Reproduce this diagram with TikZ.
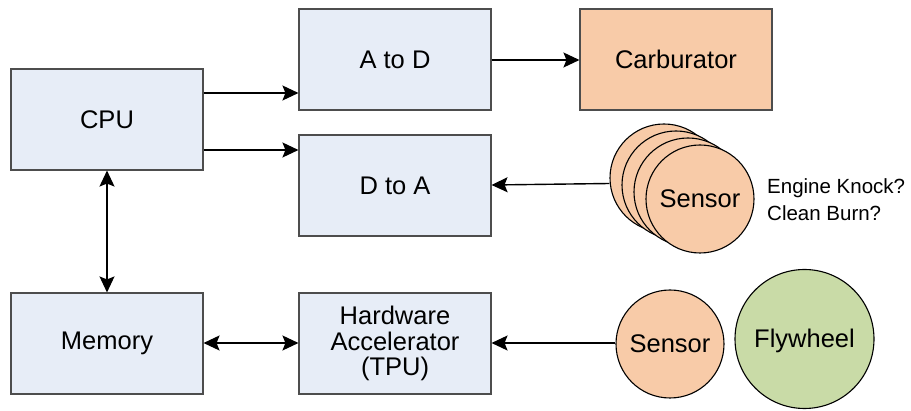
\documentclass[tikz,border=0pt]{standalone}
\usepackage{fontspec}
\setmainfont{Liberation Sans}
\usetikzlibrary{arrows.meta}
\definecolor{boxblue}{HTML}{E7EDF7}
\definecolor{boxline}{HTML}{4D4D4D}
\definecolor{orangefill}{HTML}{F8CBA8}
\definecolor{greenfill}{HTML}{C9DBA7}
\tikzset{
  blk/.style={draw=boxline, line width=1.1pt, fill=boxblue, minimum width=192pt, minimum height=101pt, inner sep=0pt, align=center, font=\fontsize{25.5}{25.5}\selectfont},
  orangeblk/.style={blk, fill=orangefill},
  circ/.style={circle, draw=black, line width=1.1pt, fill=orangefill, inner sep=0pt, font=\fontsize{25.5}{25.5}\selectfont},
  arr/.style={line width=1.4pt, -{Stealth[length=16pt,width=15pt,inset=3pt]}},
  darr/.style={line width=1.4pt, {Stealth[length=16pt,width=15pt,inset=3pt]}-{Stealth[length=16pt,width=15pt,inset=3pt]}},
  note/.style={anchor=west, inner sep=0pt, align=left, font=\fontsize{20.5}{27}\selectfont}
}
\begin{document}
\begin{tikzpicture}[x=1pt,y=-1pt]
\useasboundingbox[fill=white] (0,0) rectangle (911,411);
\node[blk] (cpu) at (107,119.5) {CPU};
\node[blk] (atod) at (395,59.5) {A to D};
\node[blk] (dtoa) at (395,185.5) {D to A};
\node[blk] (mem) at (107,343.5) {Memory};
\node[blk] (hw) at (395,343.5) {Hardware\\Accelerator\\(TPU)};
\node[orangeblk] (carb) at (676,59.5) {Carburator};
% stacked sensors
\node[circ, minimum size=108pt] (s4) at (664,178) {};
\node[circ, minimum size=108pt] (s3) at (676,185) {};
\node[circ, minimum size=108pt] (s2) at (688,192) {};
\node[circ, minimum size=108pt] (s1) at (700,199) {Sensor};
\node[note] (notes) at (767,199.5) {Engine Knock?\\Clean Burn?};
% bottom sensors
\node[circ, minimum size=108pt] (sens) at (670,344) {Sensor};
\node[circ, minimum size=139pt, fill=greenfill, text depth=2pt] (fly) at (804.5,339) {Flywheel};
% connectors
\draw[arr] (cpu.east |- 0,93) -- (atod.west |- 0,93);
\draw[arr] (cpu.east |- 0,150) -- (dtoa.west |- 0,150);
\draw[arr] (atod.east |- 0,60) -- (carb.west |- 0,60);
\draw[arr] (s4.west |- 0,183.5) -- (dtoa.east |- 0,185);
\draw[darr] (cpu.south) -- (mem.north);
\draw[darr] (mem.east |- 0,343) -- (hw.west |- 0,343);
\draw[arr] (sens.west |- 0,343) -- (hw.east |- 0,343);
\end{tikzpicture}
\end{document}
